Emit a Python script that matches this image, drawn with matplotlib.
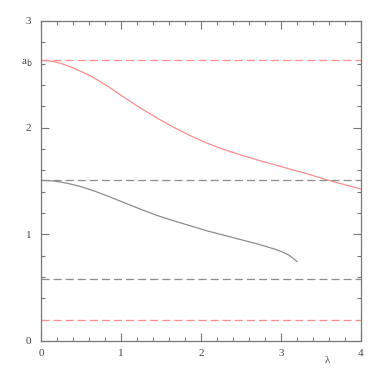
import matplotlib
matplotlib.use("Agg")
import matplotlib.pyplot as plt
from matplotlib.ticker import MultipleLocator

red_x = [0.0, 0.125, 0.25, 0.417, 0.625, 0.833, 1.04, 1.25, 1.458, 1.667, 1.875,
         2.083, 2.29, 2.5, 2.708, 2.917, 3.125, 3.333, 3.54, 3.75, 4.0]
red_y = [2.631, 2.625, 2.603, 2.556, 2.484, 2.39, 2.284, 2.181, 2.087, 2.0, 1.922,
         1.853, 1.794, 1.744, 1.697, 1.653, 1.609, 1.567, 1.518, 1.475, 1.425]
gray_x = [0.0, 0.167, 0.333, 0.5, 0.667, 0.833, 1.04, 1.25, 1.458, 1.667, 1.875,
          2.083, 2.29, 2.5, 2.708, 2.917, 3.0, 3.1, 3.2]
gray_y = [1.506, 1.50, 1.478, 1.447, 1.406, 1.359, 1.297, 1.234, 1.175, 1.125, 1.078,
          1.031, 0.991, 0.95, 0.909, 0.8625, 0.84, 0.805, 0.745]
red_levels = [2.63, 0.2]
gray_levels = [1.506, 0.58]
xticks = [0, 1, 2, 3, 4]
yticks = [0, 1, 2, 3]

plt.rcParams['font.family'] = ['Liberation Serif', 'DejaVu Serif']
plt.rcParams['lines.scale_dashes'] = False
fig = plt.figure(figsize=(3.82, 3.82), dpi=100)
ax = fig.add_axes([41/382, 41/382, 320/382, 320/382])

red = '#ff8c8c'
gray = '#8c8c8c'
ax.plot(red_x, red_y, color=red, lw=0.9)
ax.plot(gray_x, gray_y, color=gray, lw=0.9)
for v in red_levels:
    ax.axhline(v, color=red, lw=0.9, dashes=(5.8, 2.9))
for v in gray_levels:
    ax.axhline(v, color=gray, lw=0.9, dashes=(5.8, 2.9))

ax.set_xlim(0, 4)
ax.set_ylim(0, 3)
ax.set_xticks(xticks)
ax.set_yticks(yticks)
ax.xaxis.set_minor_locator(MultipleLocator(0.2))
ax.yaxis.set_minor_locator(MultipleLocator(0.2))
ax.tick_params(which='both', direction='in', top=True, right=True, color='#777777',
               labelsize=8, labelcolor='#444444', width=0.8)
ax.tick_params(which='major', length=6)
ax.tick_params(which='minor', length=3)
ax.tick_params(axis='x', pad=6)
ax.tick_params(axis='y', pad=7)
for s in ax.spines.values():
    s.set_color('#777777')
    s.set_linewidth(0.9)

ax.text(-0.1, 2.6, r'a$_\mathrm{b}$', ha='right', va='center', fontsize=8, color='#444444')
ax.text(3.58, -0.18, 'λ', ha='center', va='center', fontsize=8, color='#444444')

fig.savefig('out.png', dpi=100)
